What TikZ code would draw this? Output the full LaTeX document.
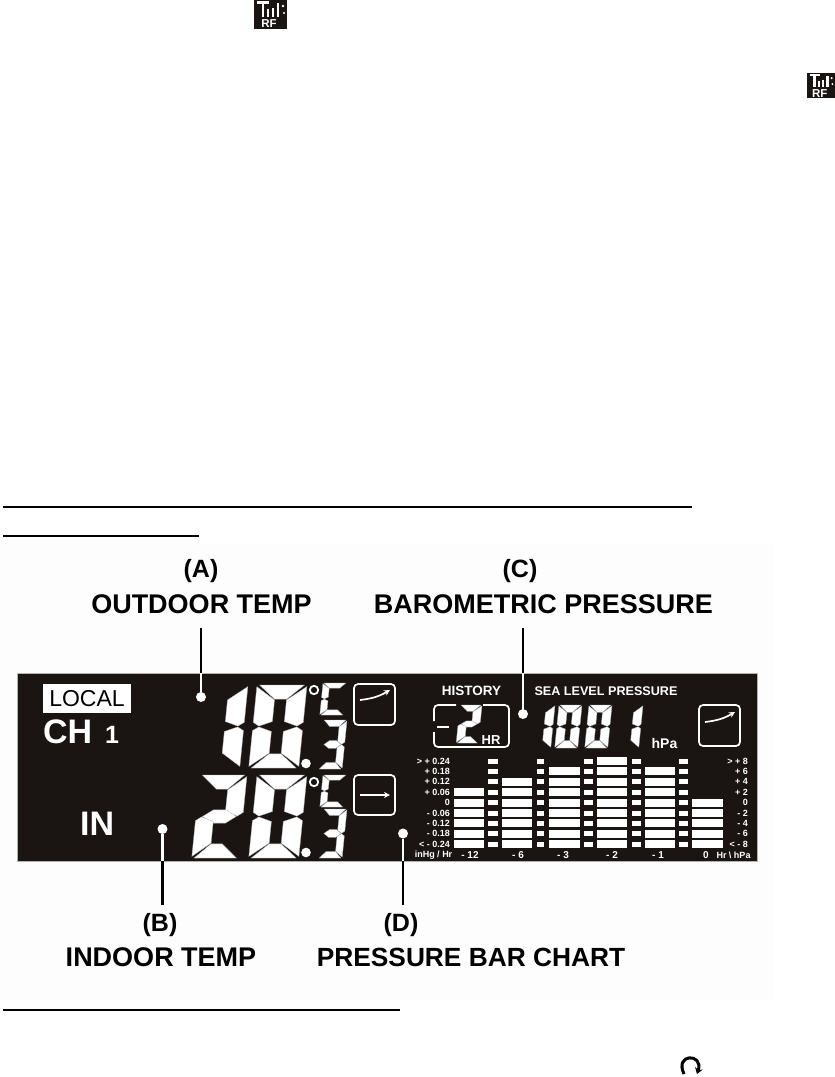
\documentclass[tikz,border=0pt]{standalone}
\usepackage{fontspec}
\setmainfont{Liberation Sans}
\usetikzlibrary{calc,arrows.meta,positioning}
\definecolor{lcdblack}{RGB}{26,21,19}
\definecolor{photobg}{RGB}{253,253,253}
\newcommand{\lcdfont}[1]{\fontsize{#1}{#1}\selectfont\bfseries}
% segments of one digit, 10 wide and 20 high
\def\segt{3.8}
\def\segh{3.4}
\def\sega{(0.5,0)--(9.5,0)--({10-\segt},\segh)--(\segt,\segh)--cycle}
\def\segd{(0.5,20)--(9.5,20)--({10-\segt},{20-\segh})--(\segt,{20-\segh})--cycle}
\def\segf{(0,0.4)--(\segt,{\segh+.2})--(\segt,8.8)--(1.2,9.9)--(0,9)--cycle}
\def\sege{(0,19.6)--(\segt,{19.8-\segh})--(\segt,11.2)--(1.2,10.1)--(0,11)--cycle}
\def\segb{(10,0.4)--({10-\segt},{\segh+.2})--({10-\segt},8.8)--(8.8,9.9)--(10,9)--cycle}
\def\segc{(10,19.6)--({10-\segt},{19.8-\segh})--({10-\segt},11.2)--(8.8,10.1)--(10,11)--cycle}
\def\segg{(1.4,10)--(3.6,8.4)--(6.4,8.4)--(8.6,10)--(6.4,11.6)--(3.6,11.6)--cycle}
\newcommand{\lcddigit}[5]{%
  \begin{scope}[shift={(#1,#2)},xslant=.1,xscale=#3/10,yscale=#4/20]
    \foreach \s in {#5} {\filldraw[seg] \csname seg\s\endcsname;}
  \end{scope}}
\newcommand{\rficon}[3]{%
  \begin{scope}[shift={(#1,#2)},scale=#3/33]
    \fill[lcdblack] (0,0) rectangle (33,29);
    \draw[white,line width=2.4pt] (3,2.5)--(15,2.5) (9,2.5)--(9,17) (14,9)--(14,17) (19,8)--(19,17) (24,3)--(24,17);
    \fill[white] (29,6) circle (1.4) (30,13) circle (1.2);
    \node[white,font=\lcdfont{11.5},inner sep=0pt] (rf#1) at (15,24) {RF};
  \end{scope}}
\begin{document}
\begin{tikzpicture}[x=1pt,y=-1pt,>=Stealth,
    seg/.style={fill=white,draw=gray!60,line width=.35pt},
    callout/.style={font=\lcdfont{27},align=center,inner sep=0pt},
    dot/.style={circle,fill=white,inner sep=0pt,minimum size=10pt},
    box/.style={draw=white,line width=1.7pt,rounded corners=4pt},
    stem/.style={line width=2.4pt},
    scalelabel/.style={white,font=\lcdfont{9},inner sep=0pt,anchor=east}]
  \useasboundingbox (0,0) rectangle (835,1077);
  \fill[photobg] (0,543) rectangle (774,1000);
  % top of the page
  \rficon{254}{0}{33}
  \rficon{807}{73}{28}
  \coordinate (ruleA) at (3,507);
  \coordinate (ruleB) at (692,507);
  \draw[line width=2.8pt] (ruleA)--(ruleB);
  \coordinate (ruleC) at (3,536);
  \coordinate (ruleD) at (199,536);
  \draw[line width=1.8pt] (ruleC)--(ruleD);
  \coordinate (ruleE) at (3,1010);
  \coordinate (ruleF) at (400,1010);
  \draw[line width=1.8pt] (ruleE)--(ruleF);
  \coordinate (turnA) at (684,1074);
  \coordinate (turnB) at (697,1074);
  \draw[-{Stealth[length=6pt,width=8pt]},line width=3pt] (turnA) .. controls (674,1053) and (704,1053) .. (turnB);
  % panel
  \node[fill=lcdblack,draw=gray!60,line width=.5pt,minimum width=740pt,minimum height=188pt,inner sep=0pt] (panel) at (387,767) {};
  \node[fill=white,minimum width=88pt,minimum height=29pt,inner sep=0pt,font=\fontsize{23}{23}\selectfont] (local) at (87,698.5) {LOCAL};
  \node[white,font=\lcdfont{34},inner sep=0pt,anchor=base west] (ch) at (43,743) {CH};
  \node[white,font=\lcdfont{25},inner sep=0pt,anchor=base west] (chnum) at (105,743) {1};
  \node[white,font=\lcdfont{34},inner sep=0pt,anchor=base west] (in) at (80,835) {IN};
  % temperatures
  \lcddigit{198}{685}{50}{83}{b,c}
  \lcddigit{257}{685}{50}{83}{a,b,c,d,e,f}
  \lcddigit{200}{775}{47}{83}{a,b,g,e,d}
  \lcddigit{257}{775}{50}{83}{a,b,c,d,e,f}
  \foreach \yy in {683,775} {
    \def\segt{2.8}
    \def\segh{3.2}
    \lcddigit{323}{\yy}{24}{32}{a,f,e,d}
    \draw[white,line width=1.8pt] (314,\yy+7) circle (4.2);
  }
  \foreach \yy in {720,809} {
    \def\segt{3}
    \def\segh{2.6}
    \lcddigit{323}{\yy}{24}{49}{a,b,g,c,d}
    \fill[white] (306,\yy+43.5) circle (4.8);
  }
  \draw[box] (354,684) rectangle (395,725);
  \draw[box] (354,775) rectangle (395,815);
  \coordinate (upA) at (360,700);
  \coordinate (upB) at (390,690);
  \draw[-{Stealth[length=6pt,width=6pt]},white,line width=1.7pt] (upA) to[bend right=12] (upB);
  \coordinate (flatA) at (360,795);
  \coordinate (flatB) at (390,795);
  \draw[-{Stealth[length=6pt,width=6pt]},white,line width=1.7pt] (flatA)--(flatB);
  % pressure
  \node[white,font=\lcdfont{13.5},inner sep=0pt] (history) at (471.5,691) {HISTORY};
  \node[white,font=\lcdfont{12.6},inner sep=0pt] (sealevel) at (606,691) {SEA LEVEL PRESSURE};
  \draw[white,line width=1.7pt,rounded corners=4pt] (434,721)--(434,705)--(456,705);
  \draw[white,line width=1.7pt,rounded corners=4pt] (483,705)--(509,705)--(509,747)--(434,747)--(434,732);
  \draw[white,line width=2.2pt] (437,727)--(449,727);
  \lcddigit{460}{705}{22}{38}{a,b,g,e,d}
  \node[white,font=\lcdfont{13},inner sep=0pt] (hr) at (491,740) {HR};
  \lcddigit{532}{705}{23}{43}{b,c}
  \lcddigit{559}{705}{23}{43}{a,b,c,d,e,f}
  \lcddigit{589}{705}{23}{43}{a,b,c,d,e,f}
  \lcddigit{620}{705}{23}{43}{b,c}
  \node[white,font=\lcdfont{14},inner sep=0pt] (hpa) at (664.5,743) {hPa};
  \draw[box] (699,705) rectangle (740,746);
  \coordinate (prA) at (705,722);
  \coordinate (prB) at (735,712);
  \draw[-{Stealth[length=6pt,width=6pt]},white,line width=1.7pt] (prA) to[bend right=12] (prB);
  % bar chart
  \foreach \xa/\wa/\ra in {454/30/3,502/30/2,549/31/1,597/30/0,645/30/1,692/31/4}
    \foreach \i in {\ra,...,8}
      \fill[white] (\xa,{761+10.4*\i-4}) rectangle ++(\wa,8);
  \foreach \xa/\wa in {488/10,537/7,584/9,632/9,679/9}
    \foreach \i in {0,...,8}
      \fill[white] (\xa,{761+10.4*\i-2.5}) rectangle ++(\wa,5);
  \foreach \txt [count=\i from 0] in {> + 0.24,+ 0.18,+ 0.12,+ 0.06,0,- 0.06,- 0.12,- 0.18,< - 0.24}
    \node[scalelabel] (inhg\i) at (450,{761+10.4*\i}) {\txt};
  \foreach \txt [count=\i from 0] in {> + 8,+ 6,+ 4,+ 2,0,- 2,- 4,- 6,< - 8}
    \node[scalelabel] (hpa\i) at (748,{761+10.4*\i}) {\txt};
  \node[scalelabel,anchor=center] (unitL) at (433.5,855) {inHg / Hr};
  \node[scalelabel,anchor=center] (unitR) at (733.5,855) {Hr \textbackslash\ hPa};
  \foreach \xa/\txt in {470/- 12,518/- 6,563/- 3,612/- 2,658/- 1,706/0}
    \node[scalelabel,anchor=center,font=\lcdfont{10}] (hour\xa) at (\xa,855) {\txt};
  % callouts
  \node[callout,font=\lcdfont{25}] (capA) at (201,571) {(A)};
  \node[callout] (titleA) at (201.5,604) {OUTDOOR TEMP};
  \node[callout,font=\lcdfont{25}] (capC) at (520,571) {(C)};
  \node[callout] (titleC) at (543.5,604) {BAROMETRIC PRESSURE};
  \node[callout,font=\lcdfont{25}] (capB) at (160,925) {(B)};
  \node[callout] (titleB) at (161,957) {INDOOR TEMP};
  \node[callout,font=\lcdfont{25}] (capD) at (401,925) {(D)};
  \node[callout,font=\lcdfont{26.3}] (titleD) at (471,957) {PRESSURE BAR CHART};
  \node[dot] (dotA) at (201,697) {};
  \node[dot] (dotB) at (162.5,829) {};
  \node[dot] (dotC) at (523,714) {};
  \node[dot] (dotD) at (403,833.5) {};
  \coordinate (freeA) at (201,628);
  \coordinate (freeB) at (162.5,905);
  \coordinate (freeC) at (523,628);
  \coordinate (freeD) at (403,905);
  \foreach \n in {A,C} {
    \draw[stem] (free\n)--(free\n |- panel.north);
    \draw[stem,white] (free\n |- panel.north)--(dot\n);
  }
  \foreach \n in {B,D} {
    \draw[stem] (free\n)--(free\n |- panel.south);
    \draw[stem,white] (free\n |- panel.south)--(dot\n);
  }
\end{tikzpicture}
\end{document}
